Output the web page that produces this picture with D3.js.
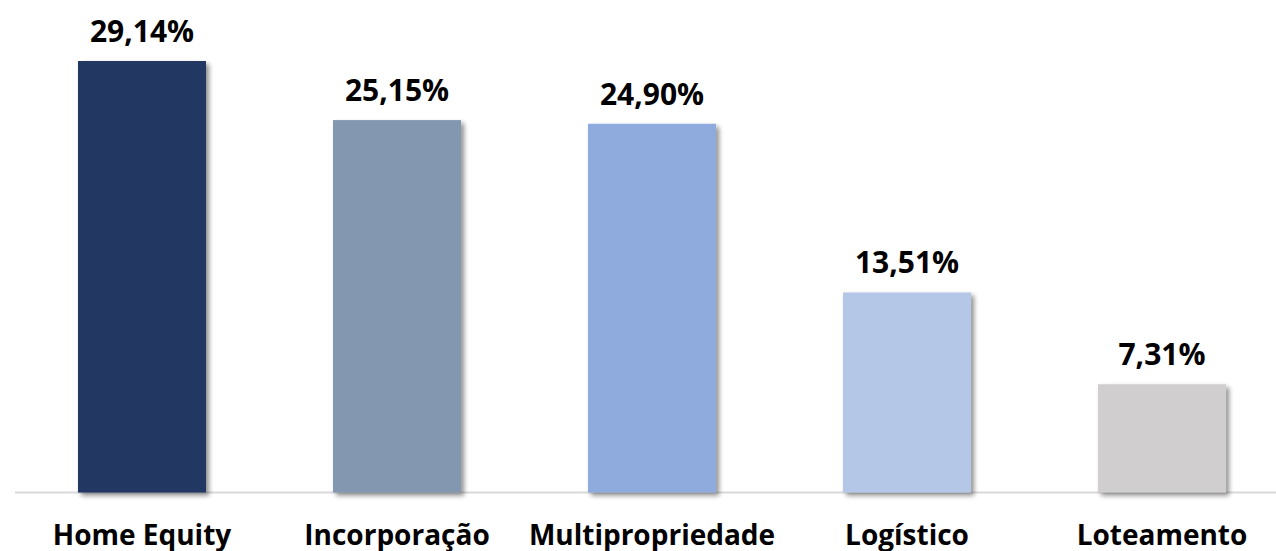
<!DOCTYPE html>
<html><head><meta charset="utf-8">
<script src="https://cdn.jsdelivr.net/npm/d3@7"></script>
<style>html,body{margin:0;padding:0;background:#fff;}svg{display:block;}</style>
</head><body>
<svg id="chart" width="1276" height="551"></svg>
<script>
const categories = ["Home Equity", "Incorporação", "Multipropriedade", "Logístico", "Loteamento"];
const values = [29.14, 25.15, 24.90, 13.51, 7.31];
const labels = ["29,14%", "25,15%", "24,90%", "13,51%", "7,31%"];
const colors = ["#203864", "#8497B0", "#8FAADC", "#B4C7E7", "#D0CECE"];

const svg = d3.select("#chart");
const baseY = 492.5;
const x = d3.scaleBand().domain(categories).range([14.5, 1289.5]).paddingInner(0.498).paddingOuter(0.249);
const y = d3.scaleLinear().domain([0, 29.14]).range([baseY, 61]);

const defs = svg.append("defs");
const f = defs.append("filter").attr("id","sh").attr("x","-10%").attr("y","-10%").attr("width","130%").attr("height","130%");
f.append("feGaussianBlur").attr("in","SourceAlpha").attr("stdDeviation",2.5).attr("result","b");
f.append("feOffset").attr("in","b").attr("dx",3).attr("dy",3).attr("result","o");
f.append("feComponentTransfer").attr("in","o").attr("result","o2").append("feFuncA").attr("type","linear").attr("slope",0.45);
const m = f.append("feMerge");
m.append("feMergeNode").attr("in","o2");
m.append("feMergeNode").attr("in","SourceGraphic");

svg.append("line").attr("x1",15).attr("x2",1276).attr("y1",baseY).attr("y2",baseY)
  .attr("stroke","#d9d9d9").attr("stroke-width",2);

svg.selectAll("rect.bar").data(categories).join("rect").attr("class","bar")
  .attr("x", d => x(d)).attr("width", x.bandwidth())
  .attr("y", (d,i) => y(values[i])).attr("height", (d,i) => baseY - y(values[i]))
  .attr("fill", (d,i) => colors[i]).attr("filter","url(#sh)");

svg.selectAll("text.val").data(categories).join("text").attr("class","val")
  .attr("x", d => x(d) + x.bandwidth()/2).attr("y", (d,i) => y(values[i]) - 19)
  .attr("text-anchor","middle").attr("font-family","'Open Sans', sans-serif")
  .attr("font-weight",700).attr("font-size",30).attr("fill","#000")
  .text((d,i) => labels[i]);

const xAxis = svg.append("g").attr("transform",`translate(0,${baseY})`)
  .call(d3.axisBottom(x).tickSize(0).tickPadding(0));
xAxis.select(".domain").remove();
xAxis.selectAll("text").attr("y", 52.5).attr("dy", 0)
  .attr("font-family","'Open Sans', sans-serif").attr("font-weight",700)
  .attr("font-size",28).attr("fill","#000");
</script>
</body></html>
